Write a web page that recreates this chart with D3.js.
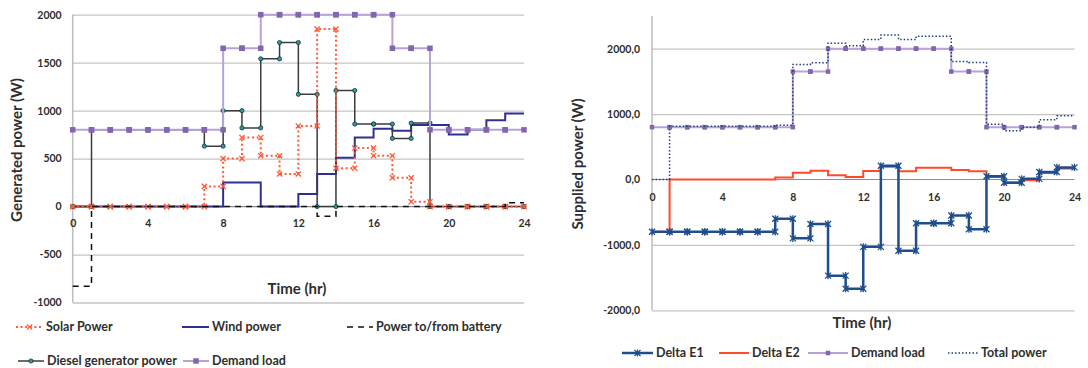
<!DOCTYPE html>
<html>
<head>
<meta charset="utf-8">
<title>Generated and supplied power</title>
<script src="https://cdn.jsdelivr.net/npm/d3@7/dist/d3.min.js"></script>
<style>
    html, body { margin: 0; padding: 0; background: #fff; }
    svg text { font-family: Lato, "Open Sans", sans-serif; font-weight: bold; fill: #2e2e2e; }
    .tick text { font-size: 10.5px; }
    .grid line { stroke: #c4c4c4; stroke-width: 1.3px; }
    .grid .domain, .labels .domain { display: none; }
    .title { font-size: 15px; }
    .legend text { font-size: 12.5px; }
</style>
</head>
<body>
<div id="main"></div>
<script>
// tick labels
var xTicks = [0, 4, 8, 12, 16, 20, 24];
var leftYTicks = [-1000, -500, 0, 500, 1000, 1500, 2000];
var rightYTicks = [-2000, -1000, 0, 1000, 2000];

// hourly values, hour 0..23 (each held until the next hour)
var solarPower   = [0, 0, 0, 0, 0, 0, 0, 210, 500, 720, 530, 340, 840, 1850, 400, 610, 530, 300, 50, 0, 0, 0, 0, 0];
var windPower    = [0, 0, 0, 0, 0, 0, 0, 0, 250, 250, 0, 0, 130, 340, 510, 720, 810, 790, 850, 850, 750, 800, 900, 970];
var batteryPower = [-830, 0, 0, 0, 0, 0, 0, 0, 0, 0, 0, 0, 0, -100, 0, 0, 0, 0, 0, 0, 0, 0, 0, 40];
var dieselPower  = [0, 800, 800, 800, 800, 800, 800, 630, 1000, 820, 1540, 1710, 1170, 0, 1210, 860, 860, 710, 870, 0, 0, 0, 0, 0];
var demandLoad   = [800, 800, 800, 800, 800, 800, 800, 800, 1650, 1650, 2000, 2000, 2000, 2000, 2000, 2000, 2000, 1650, 1650, 800, 800, 800, 800, 800];

var deltaE1    = [-800, -800, -800, -800, -800, -800, -800, -600, -900, -680, -1470, -1670, -1030, 210, -1090, -670, -670, -550, -760, 50, -50, 10, 115, 185];
var deltaE2    = [-800, 0, 0, 0, 0, 0, 0, 30, 105, 135, 65, 40, 130, 195, 125, 180, 180, 145, 125, 40, -45, -10, 100, 170];
var totalPower = [0, 815, 815, 815, 815, 815, 815, 830, 1760, 1785, 2085, 2045, 2140, 2210, 2140, 2190, 2190, 1805, 1790, 845, 745, 800, 915, 975];

var width = 1088, height = 368;

var svg = d3.select("#main").append("svg")
    .attr("width", width)
    .attr("height", height);

// step series: every hour gives a point at its start and its end
function stepPoints(vals) {
    var pts = [];
    vals.forEach(function(v, i) {
        pts.push([i, v]);
        pts.push([i + 1, v]);
    });
    return pts;
}

var crossPath = "M-2.6,-2.6L2.6,2.6M-2.6,2.6L2.6,-2.6";
var starPath = "M-3,-3L3,3M-3,3L3,-3M0,-3.6V3.6";

function drawSeries(g, x, y, vals, opt) {
    var pts = stepPoints(vals);
    var line = d3.line()
        .x(function(d) { return x(d[0]); })
        .y(function(d) { return y(d[1]); });
    g.append("path")
        .attr("d", line(pts))
        .attr("fill", "none")
        .attr("stroke", opt.color)
        .attr("stroke-width", opt.width)
        .attr("stroke-dasharray", opt.dash || null)
        .attr("stroke-linejoin", "miter");
    if (!opt.marker) return;
    var m = g.append("g").selectAll("g")
        .data(pts)
        .enter()
        .append("g")
        .attr("transform", function(d) { return "translate(" + x(d[0]) + "," + y(d[1]) + ")"; });
    addMarker(m, opt);
}

function addMarker(sel, opt) {
    if (opt.marker == "circle") {
        sel.append("circle").attr("r", 2.1)
            .attr("fill", "#1fa3a8").attr("stroke", "#1a1a1a").attr("stroke-width", 0.7);
    } else if (opt.marker == "square") {
        sel.append("rect").attr("x", -opt.size / 2).attr("y", -opt.size / 2)
            .attr("width", opt.size).attr("height", opt.size)
            .attr("fill", "#8466b0");
    } else if (opt.marker == "cross") {
        sel.append("path").attr("d", crossPath)
            .attr("stroke", opt.color).attr("stroke-width", 1.3).attr("fill", "none");
    } else if (opt.marker == "star") {
        sel.append("path").attr("d", starPath)
            .attr("stroke", opt.color).attr("stroke-width", 1.3).attr("fill", "none");
    }
}

function legendItem(g, x0, x1, ty, label, opt) {
    var item = g.append("g");
    item.append("line")
        .attr("x1", x0).attr("x2", x1).attr("y1", ty).attr("y2", ty)
        .attr("stroke", opt.color).attr("stroke-width", opt.width)
        .attr("stroke-dasharray", opt.dash || null);
    if (opt.marker) {
        var m = item.append("g").attr("transform", "translate(" + ((x0 + x1) / 2) + "," + ty + ")");
        addMarker(m, opt);
    }
    item.append("text")
        .attr("x", x1 + 3).attr("y", ty).attr("dy", "0.35em")
        .text(label);
}

function chartFrame(g, x, y, yTicks, fmt, xPad, yPad) {
    g.append("g")
        .attr("class", "grid")
        .attr("transform", "translate(" + x.range()[0] + ",0)")
        .call(d3.axisLeft(y).tickValues(yTicks.filter(function(v) { return v != 0; }))
            .tickSize(-(x.range()[1] - x.range()[0])).tickFormat(""));
    // zero line
    g.append("line")
        .attr("x1", x.range()[0]).attr("x2", x.range()[1])
        .attr("y1", y(0)).attr("y2", y(0))
        .attr("stroke", "#8c8c8c").attr("stroke-width", 1.2);
    // vertical axis
    g.append("line")
        .attr("x1", x.range()[0]).attr("x2", x.range()[0])
        .attr("y1", y.range()[1]).attr("y2", y.range()[0])
        .attr("stroke", "#bdbdbd").attr("stroke-width", 1.5);
    g.append("g")
        .attr("class", "labels")
        .attr("transform", "translate(" + x.range()[0] + ",0)")
        .call(d3.axisLeft(y).tickValues(yTicks).tickSize(0).tickPadding(yPad).tickFormat(fmt));
    g.append("g")
        .attr("class", "labels")
        .attr("transform", "translate(0," + y(0) + ")")
        .call(d3.axisBottom(x).tickValues(xTicks).tickSize(0).tickPadding(xPad).tickFormat(String));
}

// ---- left chart: generated power ----
var xL = d3.scaleLinear().domain([0, 24]).range([72.7, 524]);
var yL = d3.scaleLinear().domain([-1000, 2000]).range([302.5, 14.7]);
var left = svg.append("g");

chartFrame(left, xL, yL, leftYTicks, String, 13, 11);

var solarOpt   = { color: "#ff5a36", width: 2, dash: "2,2.6", marker: "cross" };
var windOpt    = { color: "#2e3192", width: 2 };
var batteryOpt = { color: "#111", width: 1.5, dash: "6,5" };
var dieselOpt  = { color: "#3c3c3c", width: 1.5, marker: "circle" };
var demandOptL = { color: "#b6a4d6", width: 2, marker: "square", size: 5.5 };

drawSeries(left, xL, yL, windPower, windOpt);
drawSeries(left, xL, yL, dieselPower, dieselOpt);
drawSeries(left, xL, yL, solarPower, solarOpt);
drawSeries(left, xL, yL, batteryPower, batteryOpt);
drawSeries(left, xL, yL, demandLoad, demandOptL);

left.append("text")
    .attr("class", "title")
    .attr("x", 297).attr("y", 289).attr("dy", "0.35em")
    .attr("text-anchor", "middle")
    .text("Time (hr)");

left.append("text")
    .attr("class", "title")
    .attr("transform", "translate(17,150) rotate(-90)")
    .attr("dy", "0.35em")
    .attr("text-anchor", "middle")
    .text("Generated power (W)");

var legL = left.append("g").attr("class", "legend");
legendItem(legL, 16, 43, 327, "Solar Power", solarOpt);
legendItem(legL, 182, 209, 327, "Wind power", windOpt);
legendItem(legL, 347, 373, 327, "Power to/from battery", batteryOpt);
legendItem(legL, 18, 44, 361, "Diesel generator power", dieselOpt);
legendItem(legL, 183, 209, 361, "Demand load", demandOptL);

// ---- right chart: supplied power ----
var xR = d3.scaleLinear().domain([0, 24]).range([652, 1074.5]);
var yR = d3.scaleLinear().domain([-2000, 2500]).range([310.3, 16]);
var right = svg.append("g");

chartFrame(right, xR, yR, rightYTicks, function(v) { return v.toFixed(1).replace(".", ","); }, 14, 12);

var e1Opt     = { color: "#1f4e8c", width: 2.5, marker: "star" };
var e2Opt     = { color: "#ff4a2b", width: 2 };
var demandOptR = { color: "#b6a4d6", width: 2, marker: "square", size: 4.5 };
var totalOpt  = { color: "#1f3f7a", width: 1.5, dash: "1.5,2" };

drawSeries(right, xR, yR, deltaE2, e2Opt);
drawSeries(right, xR, yR, deltaE1, e1Opt);
drawSeries(right, xR, yR, demandLoad, demandOptR);
drawSeries(right, xR, yR, totalPower, totalOpt);

right.append("text")
    .attr("class", "title")
    .attr("x", 862).attr("y", 323).attr("dy", "0.35em")
    .attr("text-anchor", "middle")
    .text("Time (hr)");

right.append("text")
    .attr("class", "title")
    .attr("transform", "translate(578,164) rotate(-90)")
    .attr("dy", "0.35em")
    .attr("text-anchor", "middle")
    .text("Supplied power (W)");

var legR = right.append("g").attr("class", "legend");
legendItem(legR, 622, 653, 353, "Delta E1", e1Opt);
legendItem(legR, 719, 749, 353, "Delta E2", e2Opt);
legendItem(legR, 808, 848, 353, "Demand load", demandOptR);
legendItem(legR, 948, 978, 353, "Total power", totalOpt);
</script>
</body>
</html>
